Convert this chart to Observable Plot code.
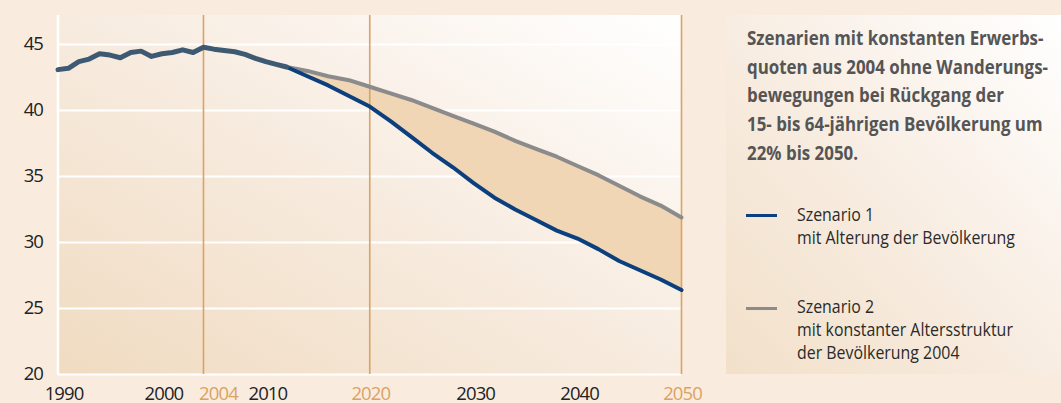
<!DOCTYPE html>
<html><head><meta charset="utf-8">
<script src="https://cdn.jsdelivr.net/npm/d3@7"></script>
<script src="https://cdn.jsdelivr.net/npm/@observablehq/plot@0.6"></script>
<style>
html,body{margin:0;padding:0;background:#f9ecdf;}
#wrap{position:relative;width:1061px;height:403px;overflow:hidden;font-family:"Open Sans",sans-serif;}
#chart{position:absolute;left:0;top:0;}
#chart svg text{letter-spacing:-0.9px;}
#panel{position:absolute;left:726px;top:15px;width:335px;height:359px;background:linear-gradient(to top right,#f2e0c9 0%,#f8ede2 50%,#ffffff 100%);}
.title{position:absolute;left:21px;top:9px;display:inline-block;font-weight:bold;font-size:19px;line-height:28.7px;color:#555555;white-space:nowrap;transform-origin:0 0;}
.entry{position:absolute;left:71px;display:inline-block;font-size:19px;line-height:23px;color:#2a2a2a;white-space:nowrap;transform-origin:0 0;}
.sw{position:absolute;left:20px;width:31px;height:3px;}
</style></head>
<body>
<div id="wrap">
  <div id="chart"></div>
  <div id="panel">
    <div class="title" id="title"></div>
    <div class="sw" id="sw1"></div>
    <div class="entry" id="e1"></div>
    <div class="sw" id="sw2"></div>
    <div class="entry" id="e2"></div>
  </div>
</div>
<script>
// ---- data ----
const histYears  = [1990,1991,1992,1993,1994,1995,1996,1997,1998,1999,2000,2001,2002,2003,2004,2005,2006,2007,2008,2009,2010,2011,2012];
const histValues = [43.1,43.2,43.7,43.9,44.3,44.2,44.0,44.4,44.5,44.1,44.3,44.4,44.6,44.4,44.8,44.65,44.55,44.45,44.25,43.95,43.7,43.5,43.3];
const scenYears  = [2012,2014,2016,2018,2020,2022,2024,2026,2028,2030,2032,2034,2036,2038,2040,2042,2044,2046,2048,2050];
const scenario1  = [43.3,42.6,41.9,41.1,40.3,39.2,38.0,36.8,35.7,34.5,33.4,32.5,31.7,30.9,30.3,29.5,28.6,27.9,27.2,26.4];
const scenario2  = [43.3,43.0,42.6,42.3,41.8,41.3,40.8,40.2,39.6,39.0,38.4,37.7,37.1,36.5,35.8,35.1,34.3,33.5,32.8,31.9];
const yTicks = [20,25,30,35,40,45];
const xTicksPlain = [2000,2010,2030,2040];
const xTickStart = [1990];
const xTickBase = [2004];
const xTicksMarked = [2020,2050];
const markedYears = [2004,2020,2050];
const titleText = "Szenarien mit konstanten Erwerbs-<br>quoten aus 2004 ohne Wanderungs-<br>bewegungen bei Rückgang der<br>15- bis 64-jährigen Bevölkerung um<br>22% bis 2050.";
const legendLabels = ["Szenario 1<br>mit Alterung der Bevölkerung", "Szenario 2<br>mit konstanter Altersstruktur<br>der Bevölkerung 2004"];

const C_BLUE = "#0b3f7d", C_GRAY = "#8b8b8b", C_HIST = "#3e5a73", C_ORANGE = "#dba263", C_BAND = "#f0d6b5";

const hist = histYears.map((year, i) => ({year, value: histValues[i]}));
const scen = scenYears.map((year, i) => ({year, s1: scenario1[i], s2: scenario2[i]}));

function plotBackground(index, scales, values, dims) {
  const g = d3.create("svg:g");
  const lg = g.append("defs").append("linearGradient").attr("id", "plotGrad")
    .attr("x1", 0).attr("y1", 1).attr("x2", 1).attr("y2", 0);
  lg.append("stop").attr("offset", "0%").attr("stop-color", "#f0dbc1");
  lg.append("stop").attr("offset", "55%").attr("stop-color", "#f8ede2");
  lg.append("stop").attr("offset", "100%").attr("stop-color", "#ffffff");
  g.append("rect")
    .attr("x", dims.marginLeft).attr("y", dims.marginTop)
    .attr("width", dims.width - dims.marginLeft - dims.marginRight)
    .attr("height", dims.height - dims.marginTop - dims.marginBottom)
    .attr("fill", "url(#plotGrad)");
  return g.node();
}

const font = "Open Sans, sans-serif";
const FS = 18.5;
const axisOpts = {tickSize: 0, tickPadding: 12, label: null, tickFormat: d => String(d), fontSize: FS};
const plot = Plot.plot({
  width: 720, height: 403,
  marginLeft: 57.5, marginRight: 39, marginTop: 15, marginBottom: 29,
  x: {domain: [1990, 2050]},
  y: {domain: [20, 47.2]},
  style: {background: "transparent", fontFamily: font, fontSize: FS + "px", overflow: "visible"},
  marks: [
    plotBackground,
    Plot.ruleY(yTicks, {stroke: "white", strokeWidth: 2}),
    Plot.ruleX(xTickStart, {stroke: "white", strokeWidth: 2.5}),
    Plot.areaY(scen, {x: "year", y1: "s1", y2: "s2", fill: C_BAND}),
    Plot.ruleX(markedYears, {stroke: C_ORANGE, strokeWidth: 1.6}),
    Plot.line(scen, {x: "year", y: "s2", stroke: C_GRAY, strokeWidth: 4}),
    Plot.line(scen, {x: "year", y: "s1", stroke: C_BLUE, strokeWidth: 4}),
    Plot.line(hist, {x: "year", y: "value", stroke: C_HIST, strokeWidth: 5}),
    Plot.axisY(yTicks, {tickSize: 0, tickPadding: 15, fill: "#222", label: null, fontSize: FS}),
    Plot.axisX(xTicksPlain, {...axisOpts, fill: "#222", dx: 2}),
    Plot.axisX(xTickStart, {...axisOpts, fill: "#222", dx: 6}),
    Plot.axisX(xTickBase, {...axisOpts, fill: C_ORANGE, dx: 15}),
    Plot.axisX(xTicksMarked, {...axisOpts, fill: C_ORANGE, dx: 1})
  ]
});
document.getElementById("chart").appendChild(plot);

const title = document.getElementById("title");
title.innerHTML = titleText;
const e1 = document.getElementById("e1"), e2 = document.getElementById("e2");
e1.innerHTML = legendLabels[0]; e1.style.top = "188px";
e2.innerHTML = legendLabels[1]; e2.style.top = "280px";
const sw1 = document.getElementById("sw1"), sw2 = document.getElementById("sw2");
sw1.style.background = C_BLUE; sw1.style.top = "199px";
sw2.style.background = C_GRAY; sw2.style.top = "292px";

// horizontally condense text blocks to the reference's measured widths
const kTitle = 301 / title.getBoundingClientRect().width;
title.style.transform = `scaleX(${kTitle})`;
const kLegend = 218 / e1.getBoundingClientRect().width;
e1.style.transform = `scaleX(${kLegend})`;
e2.style.transform = `scaleX(${kLegend})`;
</script>
</body></html>
